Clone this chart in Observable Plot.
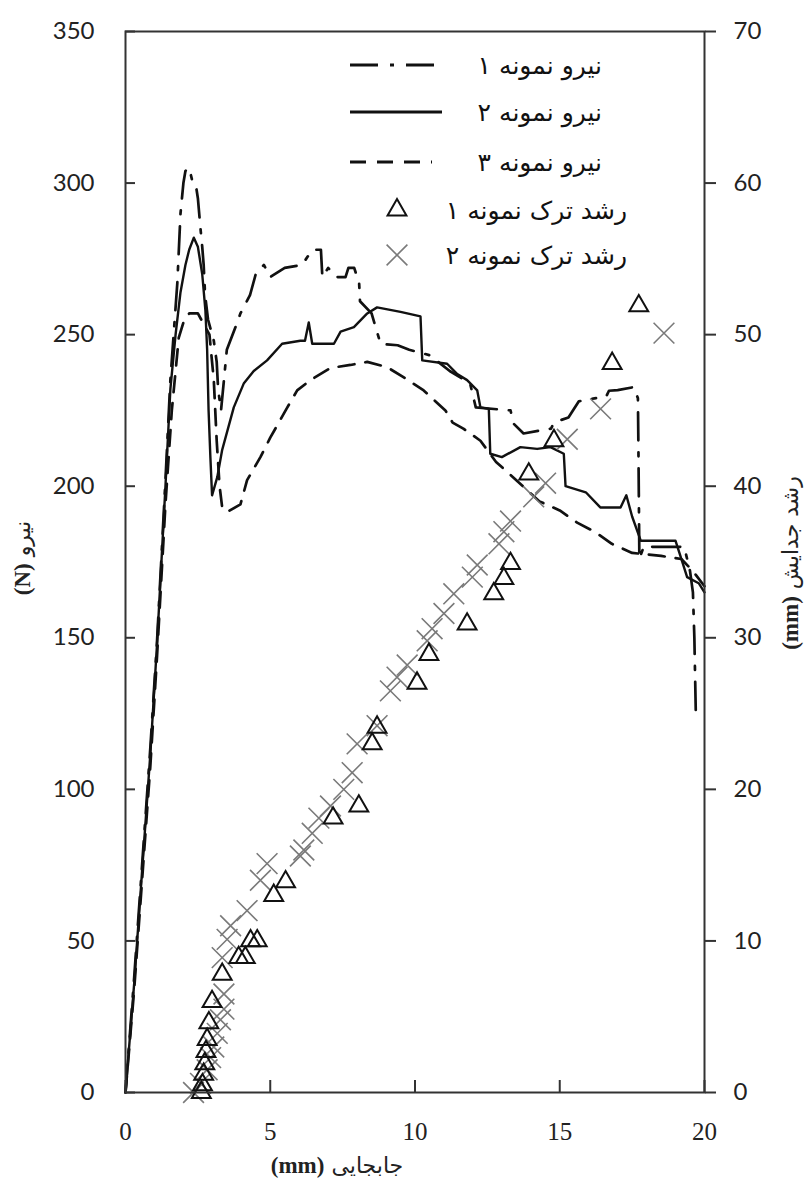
<!DOCTYPE html>
<html><head><meta charset="utf-8">
<script src="https://cdn.jsdelivr.net/npm/d3@7"></script>
<script src="https://cdn.jsdelivr.net/npm/@observablehq/plot@0.6"></script>
<style>
body{margin:0;background:#fff}
#chart{position:relative;width:807px;height:1189px}
</style>
</head><body><div id="chart"></div>
<script>
// ---- data (displacement mm, force N) ----
const disp1 = [0, 0.3, 0.86, 1.09, 1.38, 1.55, 1.79, 1.9, 2.0, 2.07, 2.2, 2.3, 2.42, 2.5, 2.6, 2.65, 2.7, 2.75, 2.85, 3.05, 3.15, 3.2, 3.3, 3.5, 3.86, 3.97, 4.3, 4.5, 4.78, 5.0, 5.5, 6.1, 6.45, 6.75, 6.8, 7.0, 7.3, 7.6, 7.7, 7.9, 8.07, 8.1, 8.5, 8.81, 9.4, 9.8, 10.59, 10.8, 11.2, 11.9, 12.0, 12.1, 13.3, 13.4, 13.75, 14.33, 14.7, 14.8, 15.3, 15.66, 16.2, 16.6, 16.7, 17.0, 17.56, 17.7, 17.72, 17.75, 17.9, 19.3, 19.5, 19.6, 19.65, 19.7];
const force1 = [0, 38, 114, 149, 202, 235, 267, 290, 300, 304, 305, 301, 300, 295, 284, 279, 273, 263, 255, 248, 241, 232, 225, 245, 254, 257, 263, 270, 273, 269, 272, 273, 278, 278, 269, 272, 269, 269, 272, 272, 267, 261, 257, 247, 246.5, 245, 243, 241, 238, 234, 230, 226, 225, 220.7, 217.4, 218.4, 219, 221, 222.7, 228, 229, 229.5, 231.5, 231.7, 232.7, 229, 210, 176, 180, 180, 172, 165, 150, 125];

const disp2 = [0, 0.3, 0.86, 1.09, 1.38, 1.55, 1.73, 1.9, 2.07, 2.2, 2.36, 2.5, 2.65, 2.76, 2.82, 2.87, 2.93, 2.99, 3.17, 3.34, 3.74, 4.09, 4.43, 4.89, 5.41, 6.04, 6.2, 6.33, 6.45, 7.2, 7.43, 7.89, 8.35, 8.69, 9.5, 10.19, 10.25, 11.11, 11.46, 11.8, 12.15, 12.26, 12.55, 12.6, 13.0, 13.64, 14.22, 14.68, 15.14, 15.2, 15.9, 16.4, 17.1, 17.3, 17.5, 17.8, 19.0, 19.2, 19.4, 19.8, 20];
const force2 = [0, 36, 112, 148, 200, 232, 250, 264, 273, 278, 282, 279, 270, 258, 245, 225, 210, 197, 203, 212, 226, 234, 238, 241.5, 247, 248, 248, 254, 247, 247, 251, 252.5, 257, 259, 257.5, 256, 241.5, 240.4, 237, 235, 231.6, 226, 225.5, 210.7, 209.6, 212.9, 212.3, 212.9, 210.7, 200, 198, 193, 193, 197, 190, 182, 182, 176, 170, 168, 165];

const disp3 = [0, 0.3, 0.86, 1.09, 1.38, 1.6, 1.84, 2.0, 2.2, 2.5, 2.9, 3.05, 3.15, 3.25, 3.34, 3.51, 3.97, 4.2, 4.66, 5.0, 5.59, 5.93, 6.39, 7.08, 7.77, 8.35, 9.03, 9.6, 10.3, 11.05, 11.3, 11.67, 12.26, 12.8, 13.5, 14.3, 15.0, 15.6, 16.2, 16.8, 17.5, 18.5, 19.2, 19.6, 20];
const force3 = [0, 34, 108, 144, 194, 225, 249, 254, 257, 257, 250, 235, 215, 200, 193, 191.5, 194, 202, 209.6, 216, 226, 231.6, 235, 239, 240, 241, 239.3, 236, 231.6, 225, 221, 219, 215, 208, 202, 195, 192, 188, 185, 181, 178, 177, 176, 172, 167];

// ---- data (displacement mm, crack growth mm) ----
const crackDisp1 = [2.62, 2.66, 2.70, 2.74, 2.78, 2.82, 2.88, 2.99, 3.34, 3.91, 4.14, 4.32, 4.55, 5.12, 5.53, 7.17, 8.06, 8.52, 8.69, 10.07, 10.48, 11.80, 12.72, 13.07, 13.30, 13.93, 14.80, 16.81, 17.73];
const crack1 = [0, 0.5, 1.2, 1.9, 2.7, 3.5, 4.6, 6.0, 7.8, 8.9, 8.9, 10.0, 10.0, 13.0, 13.9, 18.1, 18.9, 23.0, 24.1, 27.0, 28.9, 30.9, 32.9, 33.9, 34.9, 40.8, 43.0, 48.1, 51.9];

const crackDisp2 = [2.35, 2.59, 2.82, 2.94, 3.05, 3.17, 3.28, 3.40, 3.40, 3.34, 3.51, 3.63, 4.20, 4.66, 4.89, 6.04, 6.16, 6.45, 6.68, 7.08, 7.54, 7.83, 8.00, 8.69, 9.15, 9.38, 9.73, 10.42, 10.59, 11.00, 11.34, 11.98, 12.15, 12.90, 13.07, 13.30, 14.10, 14.51, 15.26, 16.41, 18.60];
const crack2 = [0, 0.6, 1.5, 2.3, 3.0, 3.9, 4.8, 5.5, 6.5, 8.9, 10.1, 11.0, 12.0, 14.0, 15.1, 15.6, 16.0, 17.1, 18.1, 18.9, 20.0, 21.1, 23.0, 24.2, 26.5, 27.4, 28.2, 29.8, 30.6, 31.6, 32.9, 34.0, 34.8, 36.2, 37.0, 37.7, 39.3, 40.2, 43.1, 45.1, 50.1];

// ---- axes / labels ----
const xTicks = [0, 5, 10, 15, 20];
const forceTicks = [0, 50, 100, 150, 200, 250, 300, 350];
const crackTicks = [0, 10, 20, 30, 40, 50, 60, 70];
const forceMax = 350, crackMax = 70;
const xLabel = ["(mm)", " جابجایی"];
const yLabelLeft = ["(N)", " نیرو"];
const yLabelRight = ["(mm)", " رشد جدایش"];
const legendLabels = ["نیرو نمونه ۱", "نیرو نمونه ۲", "نیرو نمونه ۳", "رشد ترک نمونه ۱", "رشد ترک نمونه ۲"];

const k = forceMax / crackMax;
const pts = (xs, ys, s = 1) => xs.map((x, i) => ({x, y: ys[i] * s}));

const ink = "#111";
const dashDot = "28,12,4,12";
const dashed = "16,11";

const plot = Plot.plot({
  width: 807, height: 1189,
  marginLeft: 125, marginRight: 103, marginTop: 31, marginBottom: 97,
  style: {background: "#fff", fontFamily: "Lato, sans-serif", fontSize: "24px", color: "#222"},
  x: {domain: [0, 20]},
  y: {domain: [0, forceMax]},
  marks: [
    Plot.line(pts(disp3, force3), {x: "x", y: "y", stroke: ink, strokeWidth: 2.7, strokeDasharray: dashed}),
    Plot.line(pts(disp2, force2), {x: "x", y: "y", stroke: ink, strokeWidth: 2.4}),
    Plot.line(pts(disp1, force1), {x: "x", y: "y", stroke: ink, strokeWidth: 2.7, strokeDasharray: dashDot}),
    Plot.dot(pts(crackDisp2, crack2, k), {x: "x", y: "y", symbol: "times", r: 9.5, stroke: "#7a7a7a", strokeWidth: 1.6}),
    Plot.dot(pts(crackDisp1, crack1, k), {x: "x", y: "y", symbol: "triangle", r: 7, stroke: ink, fill: "none", strokeWidth: 2}),
    Plot.frame({stroke: "#333", strokeWidth: 2}),
    Plot.axisX({ticks: xTicks, tickSize: -12, tickFormat: () => "", stroke: "#333", strokeWidth: 2, label: null}),
    Plot.axisX({ticks: xTicks, tickSize: 0, tickPadding: 30, label: null, fontFamily: "Liberation Serif, serif", fontSize: 25, fill: "#222"}),
    Plot.axisY({anchor: "left", ticks: forceTicks, tickSize: -10, tickFormat: () => "", stroke: "#333", strokeWidth: 2, label: null}),
    Plot.axisY({anchor: "left", ticks: forceTicks, tickSize: 0, tickPadding: 31, label: null, fill: "#222"}),
    Plot.axisY({anchor: "right", ticks: crackTicks.map(t => t * k), tickSize: 11, tickFormat: () => "", stroke: "#333", strokeWidth: 2, label: null}),
    Plot.axisY({anchor: "right", ticks: crackTicks.map(t => t * k), tickSize: 0, tickPadding: 29, tickFormat: d => d / k, label: null, fill: "#222"})
  ]
});
document.getElementById("chart").appendChild(plot);

const svg = d3.select(plot);
function label(parts, x, y, rotate) {
  const t = svg.append("text")
    .attr("transform", `translate(${x},${y})` + (rotate ? ` rotate(${rotate})` : ""))
    .attr("text-anchor", "middle").attr("dominant-baseline", "central")
    .attr("fill", "#222");
  t.append("tspan").attr("font-family", "Liberation Serif, serif").attr("font-weight", "bold").attr("font-size", 23).text(parts[0]);
  t.append("tspan").attr("font-family", "DejaVu Sans, sans-serif").attr("font-size", 22).text(parts[1]);
}
label(xLabel, 337, 1165, 0);
label(yLabelLeft, 22, 558, -90);
label(yLabelRight, 790, 563, -90);

// legend
const lg = svg.append("g");
const rows = [65, 112, 162, 210, 255];
const lineStyles = [dashDot, null, dashed];
for (let i = 0; i < 3; i++) {
  lg.append("line").attr("x1", 350).attr("x2", i === 2 ? 432 : 442).attr("y1", rows[i]).attr("y2", rows[i])
    .attr("stroke", ink).attr("stroke-width", 3).attr("stroke-dasharray", lineStyles[i]);
}
lg.append("path").attr("transform", `translate(397,${rows[3]})`)
  .attr("d", d3.symbol(d3.symbolTriangle, Math.PI * 7 * 7)()).attr("fill", "none").attr("stroke", ink).attr("stroke-width", 2);
lg.append("path").attr("transform", `translate(397,${rows[4]})`)
  .attr("d", d3.symbol(d3.symbolTimes, Math.PI * 9.5 * 9.5)()).attr("fill", "none").attr("stroke", "#7a7a7a").attr("stroke-width", 1.6);
const textRight = [602, 602, 602, 627, 627];
legendLabels.forEach((s, i) => {
  lg.append("text").attr("x", textRight[i]).attr("y", rows[i]).attr("dominant-baseline", "central")
    .attr("direction", "rtl").attr("text-anchor", "start")
    .attr("font-family", "DejaVu Sans, sans-serif").attr("font-size", 25).attr("fill", "#111").text(s);
});
</script>
</body></html>
